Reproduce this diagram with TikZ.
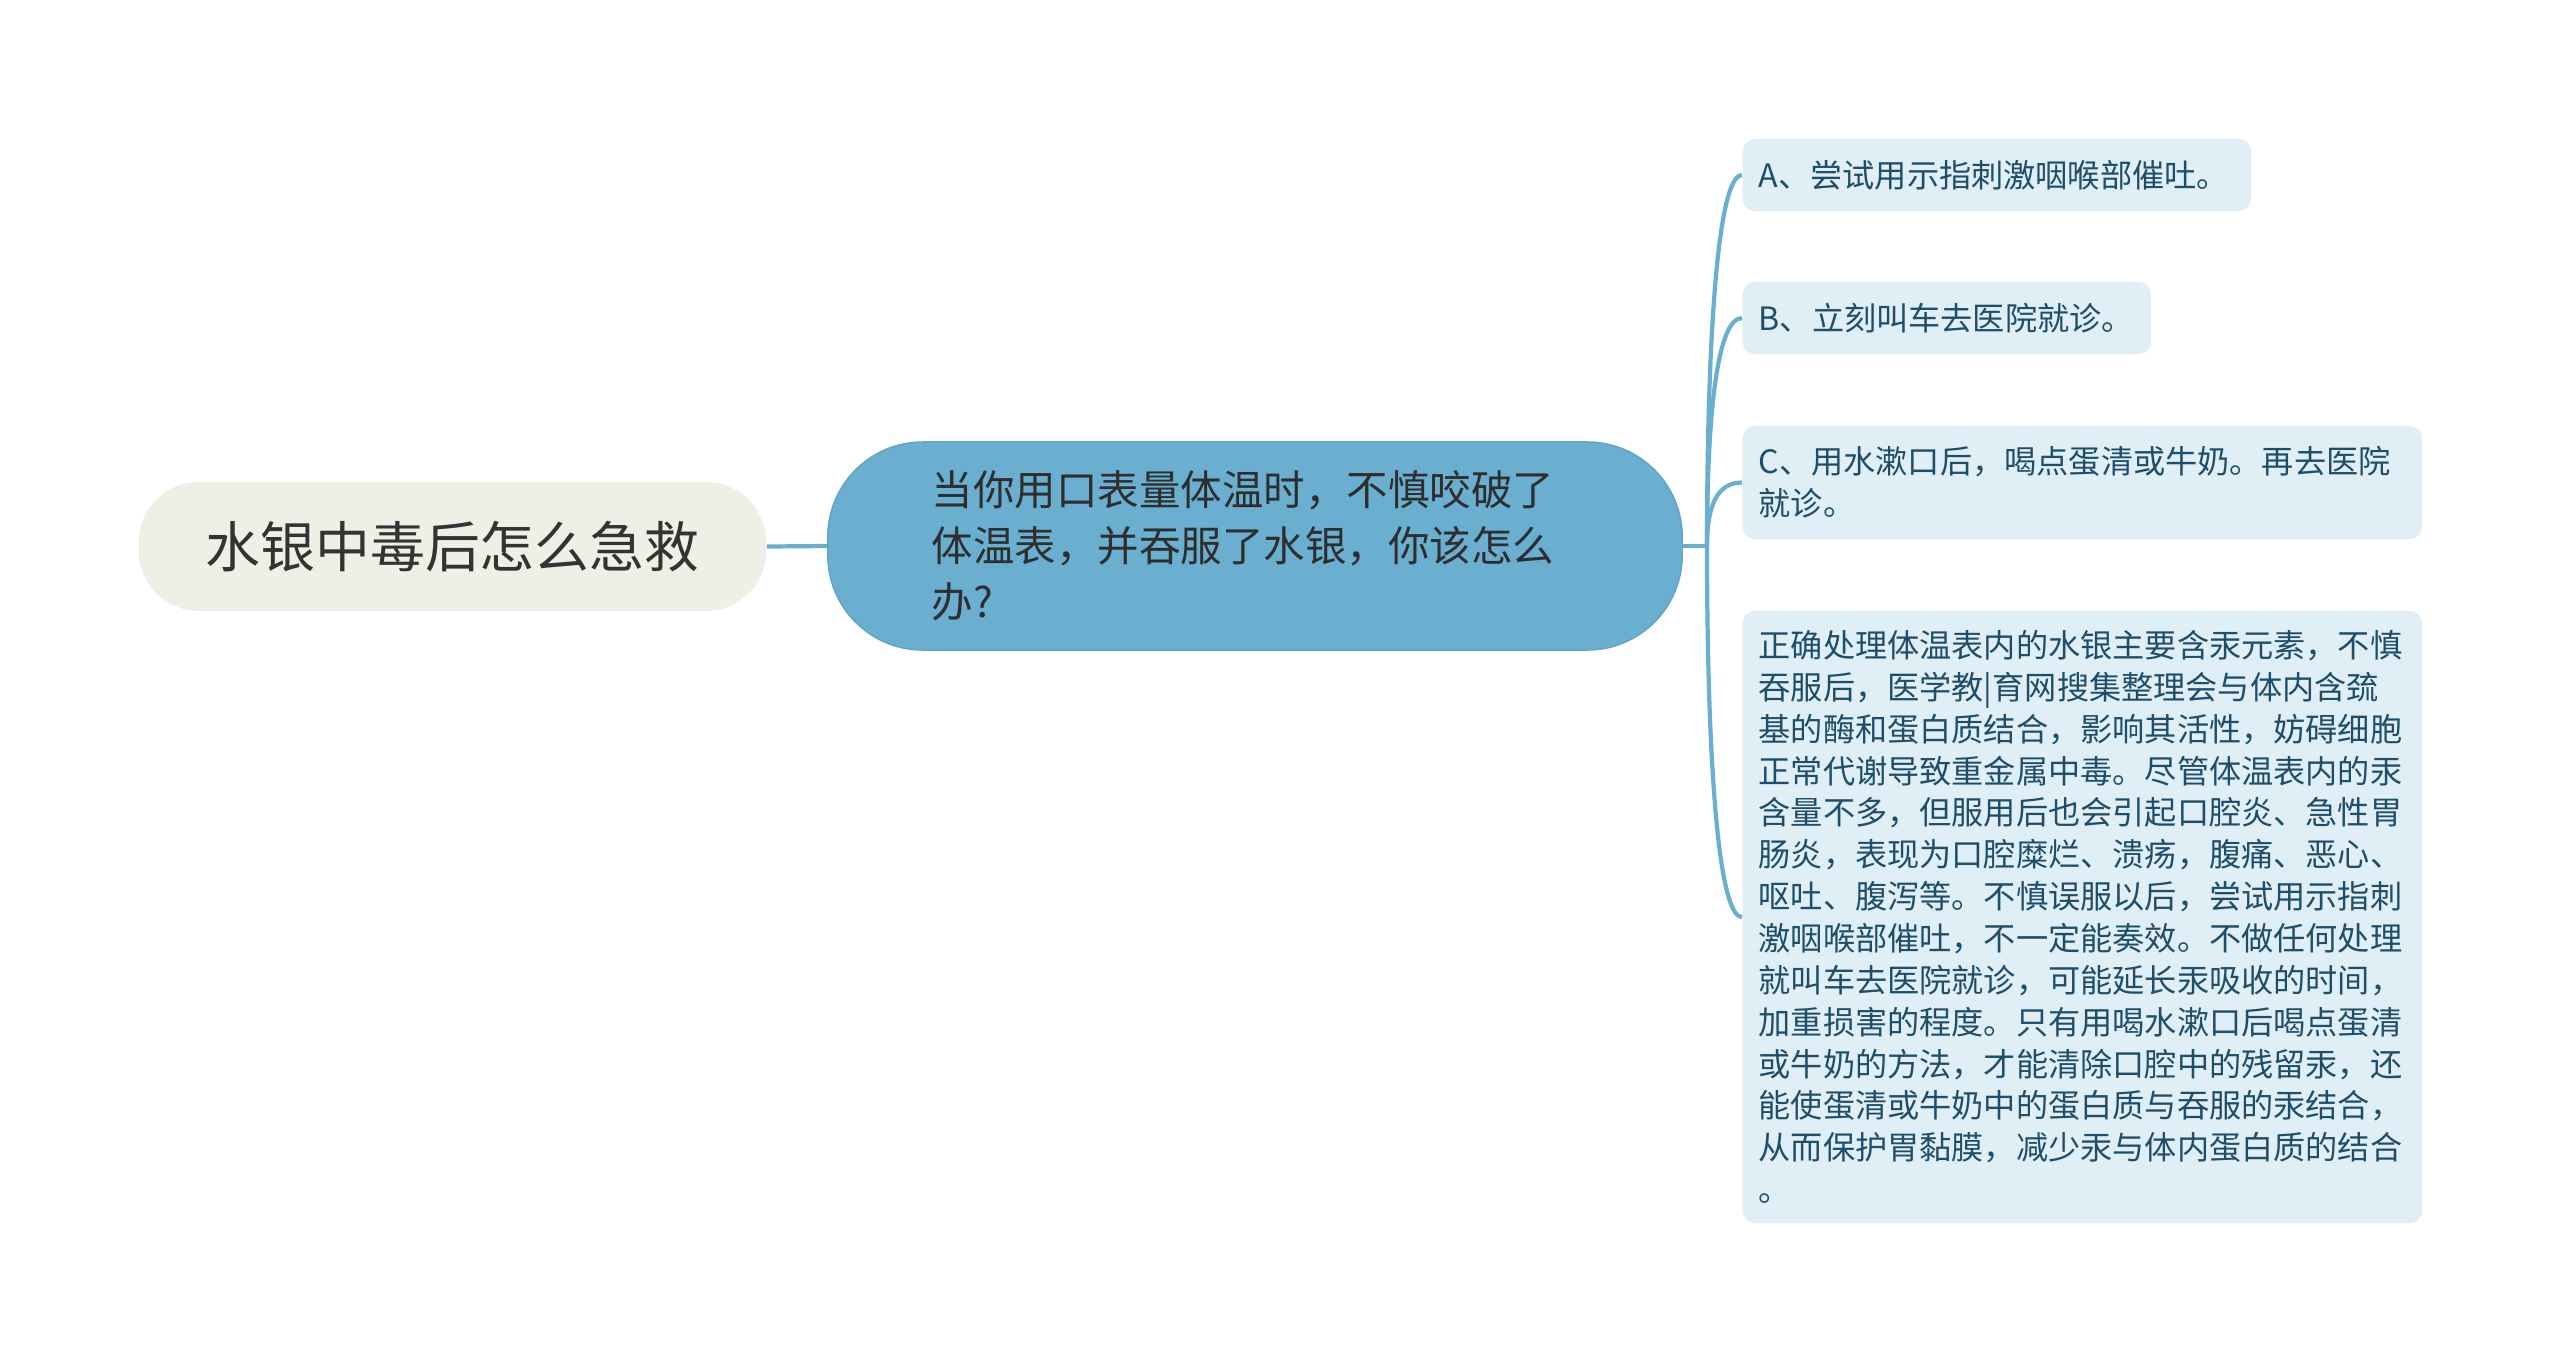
\documentclass[tikz,border=0pt]{standalone}
\usepackage{fontspec}
\setmainfont{Noto Sans CJK SC}
\usetikzlibrary{calc}
\definecolor{rootFill}{RGB}{239,239,230}
\definecolor{topicFill}{RGB}{106,174,208}
\definecolor{topicEdge}{RGB}{96,164,200}
\definecolor{leafFill}{RGB}{224,238,246}
\definecolor{leafText}{RGB}{31,78,107}
\definecolor{linkBlue}{RGB}{106,174,208}
\tikzset{
  rootBox/.style={fill=rootFill, rounded corners=0.6cm, minimum width=6.27cm,
    minimum height=1.29cm, font=\fontsize{15.6pt}{18pt}\selectfont, text=black!80},
  topicBox/.style={fill=topicFill, draw=topicEdge, rounded corners=0.95cm,
    minimum width=8.54cm, minimum height=2.08cm, text width=6.46cm, align=left,
    font=\fontsize{11.8pt}{15.9pt}\selectfont, text=black!82},
  leafBox/.style={fill=leafFill, rounded corners=0.12cm, anchor=west,
    inner xsep=0.16cm, inner ysep=0pt, align=left,
    font=\fontsize{9.15pt}{11.9pt}\selectfont, text=leafText},
  link/.style={draw=linkBlue, line width=1.2pt}
}

\begin{document}
\begin{tikzpicture}[x=0.01cm,y=-0.01cm]

            \useasboundingbox (0,0) rectangle (2560,1363);

            \node[rootBox] (root) at (452.5,546.5) {水银中毒后怎么急救};
            \node[topicBox] (topic) at (1255,546)
                {当你用口表量体温时，不慎咬破了\\体温表，并吞服了水银，你该怎么\\办?};
            \coordinate (hub) at (1707,546);

            \node[leafBox, minimum width=5.08cm, minimum height=0.72cm, text width=4.76cm]
                (optA) at (1742,175) {A、尝试用示指刺激咽喉部催吐。};
            \node[leafBox, minimum width=4.08cm, minimum height=0.72cm, text width=3.76cm]
                (optB) at (1742,318) {B、立刻叫车去医院就诊。};
            \node[leafBox, minimum width=6.79cm, minimum height=1.13cm, text width=6.47cm]
                (optC) at (1742,482.5) {C、用水漱口后，喝点蛋清或牛奶。再去医院\\就诊。};
            \node[leafBox, minimum width=6.79cm, minimum height=6.12cm, text width=6.47cm]
                (note) at (1742,917) {正确处理体温表内的水银主要含汞元素，不慎\\
                吞服后，医学教|育网搜集整理会与体内含巯\\
                基的酶和蛋白质结合，影响其活性，妨碍细胞\\
                正常代谢导致重金属中毒。尽管体温表内的汞\\
                含量不多，但服用后也会引起口腔炎、急性胃\\
                肠炎，表现为口腔糜烂、溃疡，腹痛、恶心、\\
                呕吐、腹泻等。不慎误服以后，尝试用示指刺\\
                激咽喉部催吐，不一定能奏效。不做任何处理\\
                就叫车去医院就诊，可能延长汞吸收的时间，\\
                加重损害的程度。只有用喝水漱口后喝点蛋清\\
                或牛奶的方法，才能清除口腔中的残留汞，还\\
                能使蛋清或牛奶中的蛋白质与吞服的汞结合，\\
                从而保护胃黏膜，减少汞与体内蛋白质的结合\\
                。};

            \draw[link] (root.east) -- (topic.west);
            \draw[link] (topic.east) -- (hub);
            \foreach \leaf/\bend in {optA/-200,optB/-130,optC/-40,note/200} {
                \draw[link] (hub) .. controls +(0,\bend) and +(-25,0) .. (\leaf.west);
            }
        \end{tikzpicture}
\end{document}
